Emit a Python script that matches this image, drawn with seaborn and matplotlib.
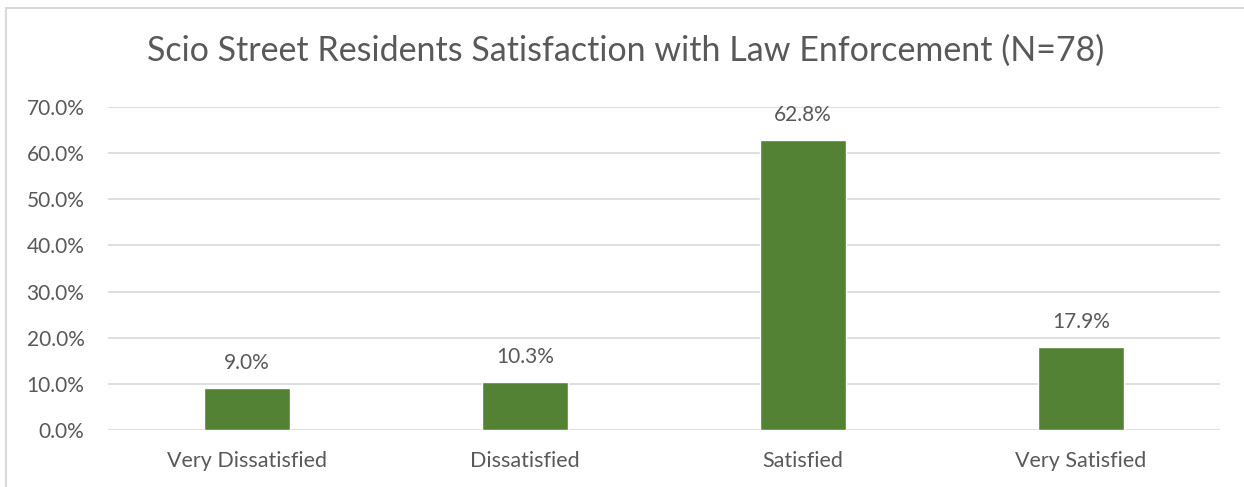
import matplotlib
matplotlib.use("Agg")
import matplotlib.pyplot as plt
import seaborn as sns
from matplotlib.lines import Line2D
from matplotlib.ticker import FuncFormatter

categories = ["Very Dissatisfied", "Dissatisfied", "Satisfied", "Very Satisfied"]
percents = [9.0, 10.3, 62.8, 17.9]
title = "Scio Street Residents Satisfaction with Law Enforcement (N=78)"

sns.set_theme(style="white")
plt.rcParams["font.family"] = ["Lato", "DejaVu Sans"]

text_color = "#595959"
grid_color = "#d9d9d9"
bar_color = "#548235"

fig = plt.figure(figsize=(12.44, 4.87), dpi=100)
ax = fig.add_axes([108 / 1244, 1 - 430 / 487, 1112 / 1244, 323 / 487])

sns.barplot(x=categories, y=percents, color=bar_color, width=0.31,
            saturation=1, ax=ax)

ax.set_ylim(0, 70)
ax.set_yticks(range(0, 71, 10))
ax.yaxis.set_major_formatter(FuncFormatter(lambda v, _: f"{v:.1f}%"))
ax.grid(axis="y", color=grid_color, linewidth=1.2)
ax.set_axisbelow(True)
for s in ax.spines.values():
    s.set_visible(False)
ax.tick_params(axis="both", length=0, labelsize=15, colors=text_color)
ax.tick_params(axis="x", labelsize=15.5, pad=15)
ax.tick_params(axis="y", pad=17)
ax.set_xlabel("")
ax.set_ylabel("")

for c in ax.containers:
    ax.bar_label(c, labels=[f"{v:.1f}%" for v in percents], padding=11,
                 fontsize=15, color=text_color)

fig.text(626 / 1244, 1 - 51 / 487, title, ha="center", va="center",
         fontsize=24.5, color=text_color)

# chart frame (only top and left edges visible in the crop)
fig.add_artist(Line2D([6 / 1244, 6 / 1244], [0, 1 - 8 / 487],
                      color=grid_color, linewidth=1.5))
fig.add_artist(Line2D([6 / 1244, 1], [1 - 8 / 487, 1 - 8 / 487],
                      color=grid_color, linewidth=1.5))

fig.savefig("out.png", dpi=100, facecolor="white")
